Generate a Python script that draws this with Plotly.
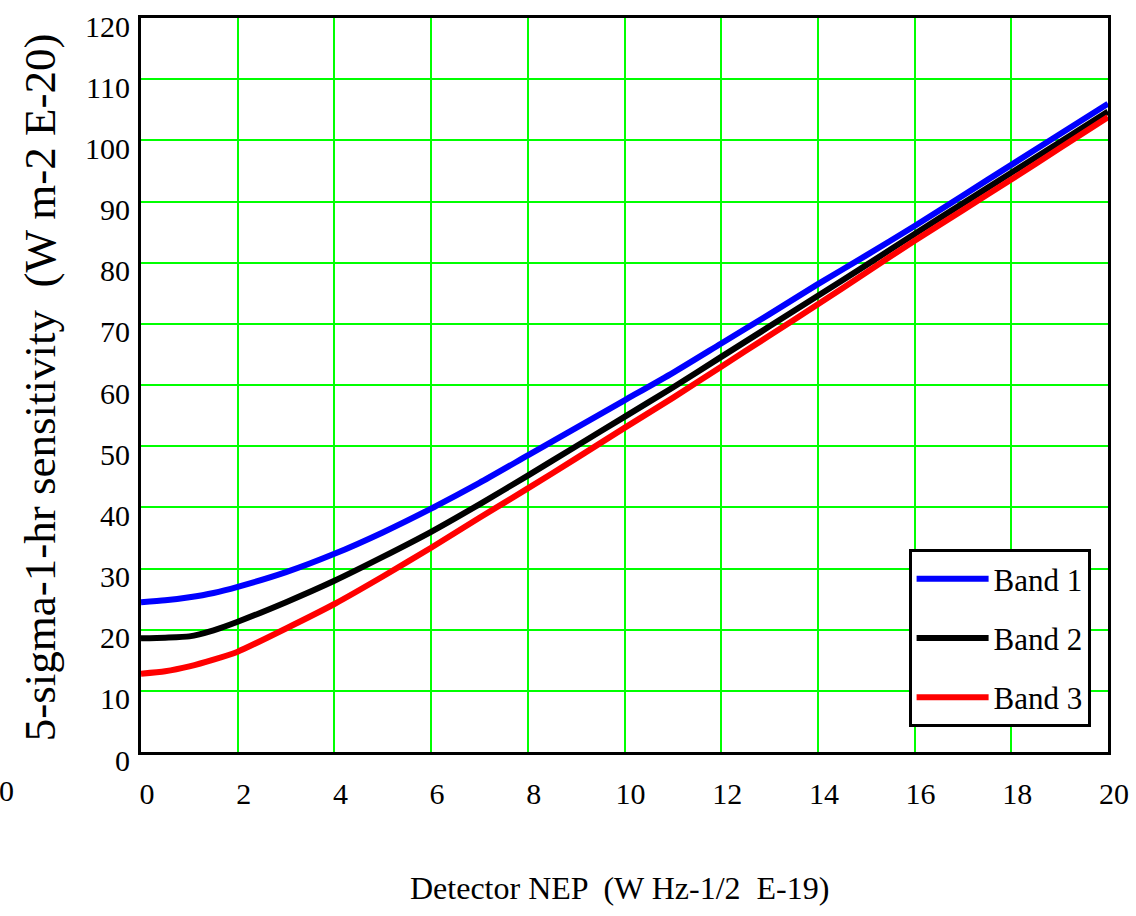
import plotly.graph_objects as go

nep = [0, 0.5, 1, 1.5, 2, 3, 4, 5, 6, 7, 8, 9, 10, 11, 12, 13, 14, 15, 16, 17, 18, 19, 20]
band1 = [24.5, 24.8, 25.3, 26.0, 27.0, 29.4, 32.4, 35.9, 39.8, 44.0, 48.5, 53.0, 57.5, 62.0, 66.8,
         71.6, 76.5, 81.2, 86.0, 91.0, 96.0, 101.0, 106.0]
band2 = [18.6, 18.7, 18.9, 19.9, 21.3, 24.5, 28.0, 31.9, 36.0, 40.5, 45.2, 50.0, 54.8, 59.6, 64.6,
         69.6, 74.6, 79.6, 84.7, 89.7, 94.7, 99.7, 104.7]
band3 = [12.8, 13.2, 14.0, 15.1, 16.4, 20.2, 24.2, 28.7, 33.4, 38.3, 43.1, 48.0, 53.0, 57.9, 63.0,
         68.1, 73.2, 78.4, 83.6, 88.6, 93.6, 98.7, 103.8]
series_names = ["Band 1", "Band 2", "Band 3"]
series_colors = ["#0000ff", "#000000", "#ff0000"]
y_ticks = [0, 10, 20, 30, 40, 50, 60, 70, 80, 90, 100, 110, 120]
x_ticks = [0, 2, 4, 6, 8, 10, 12, 14, 16, 18, 20]

FONT = "Liberation Serif"

fig = go.Figure()
for name, ys, col in zip(series_names, [band1, band2, band3], series_colors):
    fig.add_trace(go.Scatter(x=nep, y=ys, mode="lines", name=name, legendgroup=name,
                             line=dict(color=col, width=6, shape="spline", smoothing=0.6)))

fig.update_layout(
    width=1136, height=916,
    margin=dict(l=141, r=28, t=18, b=164, autoexpand=False),
    paper_bgcolor="white", plot_bgcolor="white",
    font=dict(family=FONT, color="black", size=30),
    showlegend=True,
    legend=dict(x=0.982, xanchor="right", y=0.034, yanchor="bottom",
                bordercolor="black", borderwidth=3, bgcolor="white",
                font=dict(family=FONT, size=31, color="black"),
                tracegroupgap=16, itemwidth=72),
    xaxis=dict(range=[0, 20], tickvals=x_ticks, showgrid=True, gridcolor="#00ff00", gridwidth=2,
               showline=True, linecolor="black", linewidth=3, mirror=True, zeroline=False,
               ticks="", ticklabelstandoff=13, ticklabelshift=6, automargin=False,
               tickfont=dict(family=FONT, size=30, color="black")),
    yaxis=dict(range=[0, 120.01], tickvals=y_ticks, showgrid=True, gridcolor="#00ff00", gridwidth=2,
               showline=True, linecolor="black", linewidth=3, mirror=True, zeroline=False,
               ticks="", ticklabelstandoff=2, ticklabelshift=8, automargin=False,
               tickfont=dict(family=FONT, size=30, color="black")),
)

fig.add_annotation(text="5-sigma-1-hr sensitivity  (W m-2 E-20)", xref="paper", yref="paper",
                   x=-0.1044, y=0.497, xanchor="center", yanchor="middle", textangle=-90,
                   showarrow=False, font=dict(family=FONT, size=45, color="black"))
fig.add_annotation(text="Detector NEP  (W Hz-1/2  E-19)", xref="paper", yref="paper",
                   x=0.495, y=-0.185, xanchor="center", yanchor="middle",
                   showarrow=False, font=dict(family=FONT, size=32, color="black"))
fig.add_annotation(text="0", xref="paper", yref="paper", x=-0.1396, y=-0.052,
                   xanchor="center", yanchor="middle", showarrow=False,
                   font=dict(family=FONT, size=30, color="black"))

# remove the browser's default 8px body margin so the figure fills the window
fig.write_html("out.html", config={"displayModeBar": False},
               post_script="document.body.style.margin='0';")
